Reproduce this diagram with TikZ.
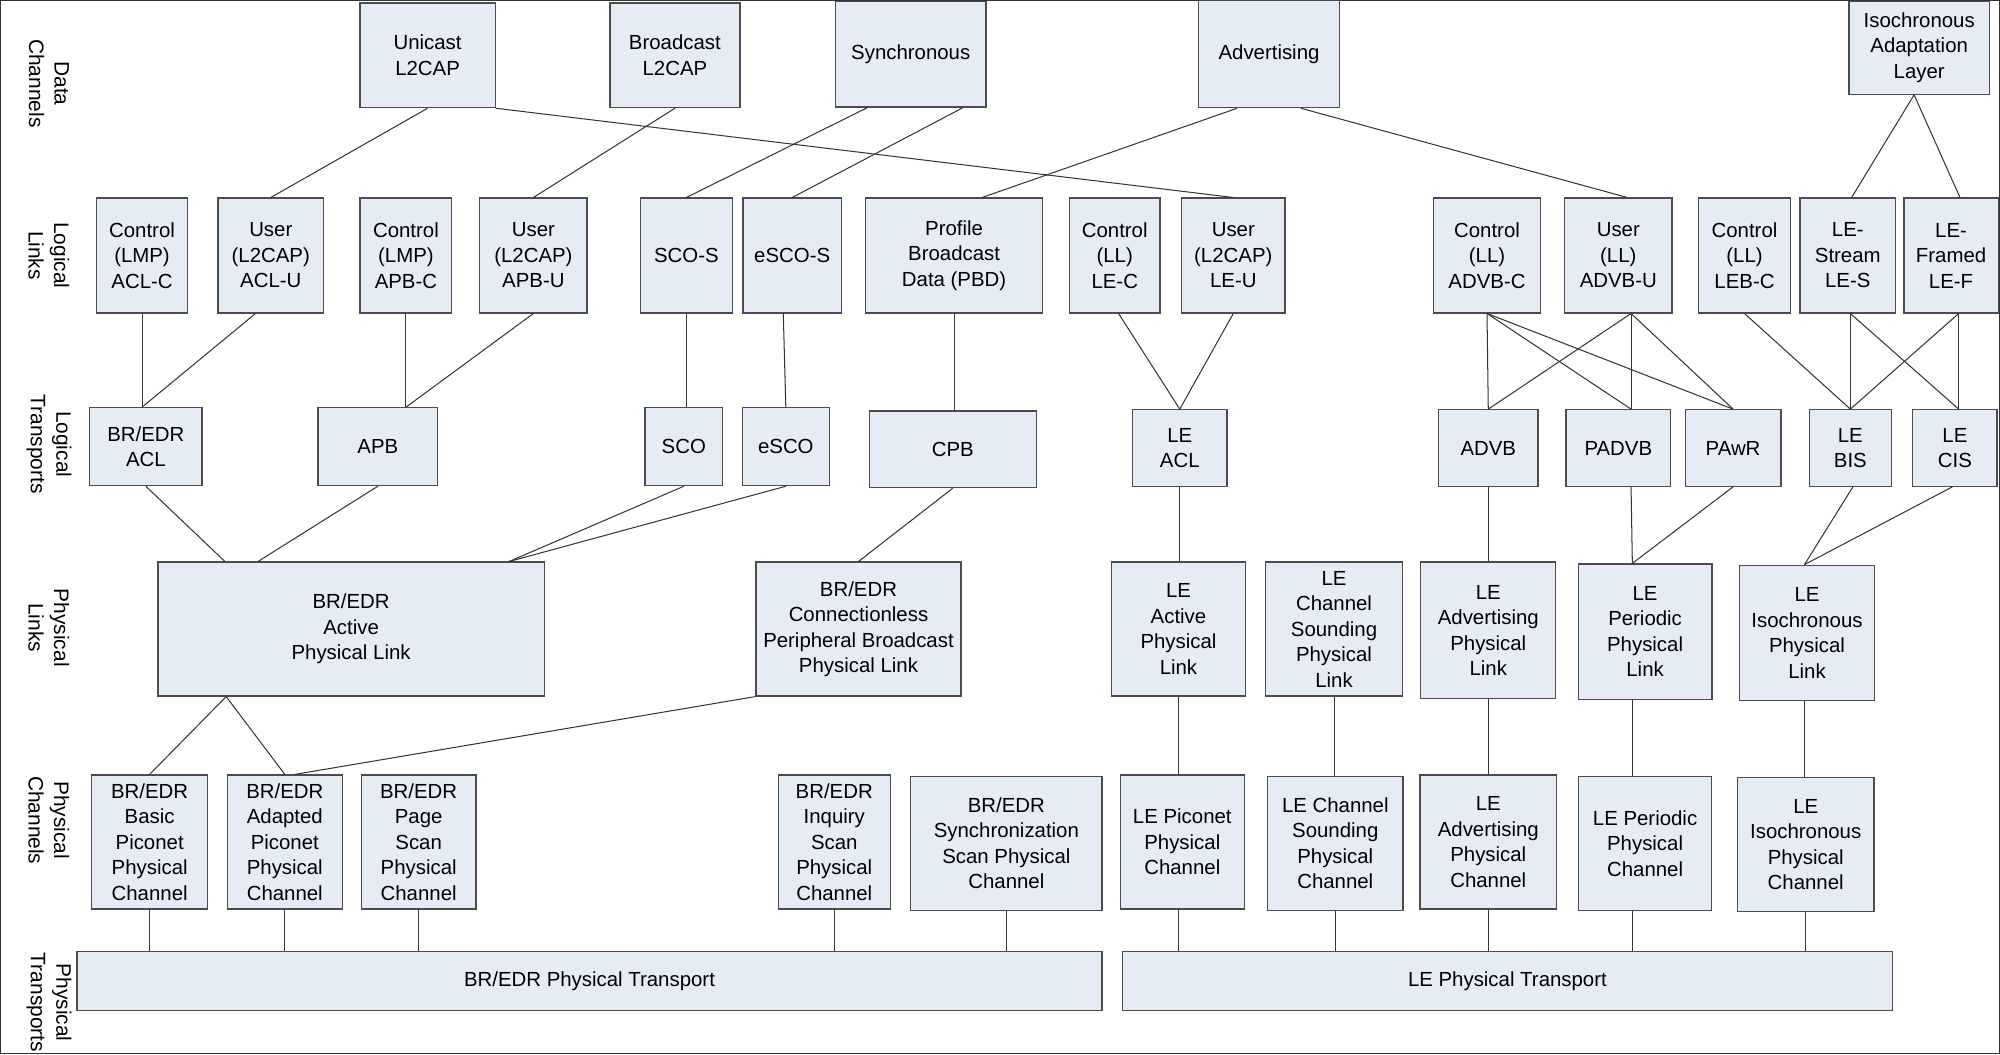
\documentclass[tikz,border=0pt]{standalone}
\usepackage{fontspec}
\setmainfont{Liberation Sans}
\begin{document}
\begin{tikzpicture}[x=0.5pt,y=-0.5pt,
  box/.style={draw=black!70,line width=0.5pt,fill=boxfill,align=center,inner sep=1pt,
    font=\fontsize{8}{10}\selectfont},
  side/.style={rotate=-90,align=center,font=\fontsize{8.2}{10}\selectfont},
  every path/.style={line width=0.4pt,draw=black!80}]
\definecolor{boxfill}{RGB}{230,236,246}
\newcommand\bx[6]{\node[box,minimum width=#4*0.5pt,minimum height=#5*0.5pt] (#1) at (#2,#3) {#6};}
\useasboundingbox (0,0) rectangle (1568,826);
% side labels
\node[side] (l1) at (38,65) {Data\\Channels};
\node[side] (l2) at (38,200) {Logical\\Links};
\node[side] (l3) at (38,348) {Logical\\Transports};
\node[side] (l4) at (38,492) {Physical\\Links};
\node[side] (l5) at (38,643) {Physical\\Channels};
\node[side] (l6) at (38,786) {Physical\\Transports};
% data channels
\bx{uni}{335}{43}{106}{82}{Unicast\\L2CAP}
\bx{bro}{529}{43}{102}{82}{Broadcast\\L2CAP}
\bx{syn}{714}{42}{118}{83}{Synchronous}
\bx{adv}{995}{42}{111}{84}{Advertising}
\bx{iso}{1505}{37}{110}{73}{Isochronous\\Adaptation\\Layer}
% logical links
\bx{aclc}{111}{200}{71}{90}{Control\\(LMP)\\ACL-C}
\bx{aclu}{212}{200}{83}{90}{User\\(L2CAP)\\ACL-U}
\bx{apbc}{318}{200}{72}{90}{Control\\(LMP)\\APB-C}
\bx{apbu}{418}{200}{84}{90}{User\\(L2CAP)\\APB-U}
\bx{scos}{538}{200}{72}{90}{SCO-S}
\bx{escos}{621}{200}{77}{90}{eSCO-S}
\bx{pbd}{748}{200}{139}{90}{Profile\\Broadcast\\Data (PBD)}
\bx{lec}{874}{200}{71}{90}{Control\\(LL)\\LE-C}
\bx{leu}{967}{200}{81}{90}{User\\(L2CAP)\\LE-U}
\bx{advbc}{1166}{200}{84}{90}{Control\\(LL)\\ADVB-C}
\bx{advbu}{1269}{200}{84}{90}{User\\(LL)\\ADVB-U}
\bx{lebc}{1368}{200}{72}{90}{Control\\(LL)\\LEB-C}
\bx{les}{1449}{200}{75}{90}{LE-\\Stream\\LE-S}
\bx{lef}{1530}{200}{74}{90}{LE-\\Framed\\LE-F}
% logical transports
\bx{bracl}{114}{350}{88}{61}{BR/EDR\\ACL}
\bx{apb}{296}{350}{94}{61}{APB}
\bx{sco}{536}{350}{61}{61}{SCO}
\bx{esco}{616}{350}{68}{61}{eSCO}
\bx{cpb}{747}{352}{131}{60}{CPB}
\bx{leacl}{925}{351}{74}{60}{LE\\ACL}
\bx{advb}{1167}{351}{78}{60}{ADVB}
\bx{padvb}{1269}{351}{82}{60}{PADVB}
\bx{pawr}{1359}{351}{75}{60}{PAwR}
\bx{bis}{1451}{351}{64}{60}{LE\\BIS}
\bx{cis}{1533}{351}{66}{60}{LE\\CIS}
% physical links
\bx{act}{275}{493}{303}{105}{BR/EDR\\Active\\Physical Link}
\bx{cpl}{673}{493}{161}{105}{BR/EDR\\Connectionless\\Peripheral Broadcast\\Physical Link}
\bx{leal}{924}{493}{105}{105}{LE\\Active\\Physical\\Link}
\bx{lecsl}{1046}{493}{107}{105}{LE\\Channel\\Sounding\\Physical\\Link}
\bx{leadl}{1167}{494}{106}{107}{LE\\Advertising\\Physical\\Link}
\bx{leperl}{1290}{495}{105}{106}{LE\\Periodic\\Physical\\Link}
\bx{leisol}{1417}{496}{106}{106}{LE\\Isochronous\\Physical\\Link}
% physical channels
\bx{basic}{117}{660}{91}{105}{BR/EDR\\Basic\\Piconet\\Physical\\Channel}
\bx{adap}{223}{660}{90}{105}{BR/EDR\\Adapted\\Piconet\\Physical\\Channel}
\bx{page}{328}{660}{90}{105}{BR/EDR\\Page\\Scan\\Physical\\Channel}
\bx{inq}{654}{660}{88}{105}{BR/EDR\\Inquiry\\Scan\\Physical\\Channel}
\bx{sync}{789}{661}{150}{105}{BR/EDR\\Synchronization\\Scan Physical\\Channel}
\bx{lepc}{927}{660}{97}{105}{LE Piconet\\Physical\\Channel}
\bx{lecsc}{1047}{661}{106}{105}{LE Channel\\Sounding\\Physical\\Channel}
\bx{leadc}{1167}{660}{107}{105}{LE\\Advertising\\Physical\\Channel}
\bx{leperc}{1290}{661}{104}{105}{LE Periodic\\Physical\\Channel}
\bx{leisoc}{1416}{662}{107}{105}{LE\\Isochronous\\Physical\\Channel}
% transports
\bx{brt}{462}{769}{804}{46}{BR/EDR Physical Transport}
\bx{let}{1182}{769}{604}{46}{LE Physical Transport}
% data channels -> logical links
\draw (uni.south) -- (aclu.north);
\draw (uni.south east) -- (leu.north);
\draw (bro.south) -- (apbu.north);
\draw ([xshift=-17pt]syn.south) -- (scos.north);
\draw ([xshift=20.5pt]syn.south) -- (escos.north);
\draw ([xshift=-12.5pt]adv.south) -- ([xshift=11pt]pbd.north);
\draw ([xshift=12.5pt]adv.south) -- ([xshift=3.5pt]advbu.north);
\draw ([xshift=-2pt]iso.south) -- ([xshift=1.5pt]les.north);
\draw ([xshift=-2pt]iso.south) -- ([xshift=3.5pt]lef.north);
% logical links -> logical transports
\draw (aclc.south) -- ([xshift=-1.5pt]bracl.north);
\draw ([xshift=-6pt]aclu.south) -- ([xshift=-1.5pt]bracl.north);
\draw (apbc.south) -- ([xshift=11pt]apb.north);
\draw (apbu.south) -- ([xshift=11pt]apb.north);
\draw (scos.south) -- (scos.south |- sco.north);
\draw ([xshift=-3.5pt]escos.south) -- (esco.north);
\draw (pbd.south) -- (pbd.south |- cpb.north);
\draw ([xshift=1.5pt]lec.south) -- (leacl.north);
\draw (leu.south) -- (leacl.north);
\draw (advbc.south) -- (advb.north);
\draw (advbc.south) -- ([xshift=5pt]padvb.north);
\draw (advbc.south) -- (pawr.north);
\draw ([xshift=5pt]advbu.south) -- (advb.north);
\draw ([xshift=5pt]advbu.south) -- ([xshift=5pt]padvb.north);
\draw ([xshift=5pt]advbu.south) -- (pawr.north);
\draw (lebc.south) -- (bis.north);
\draw ([xshift=1pt]les.south) -- (bis.north);
\draw ([xshift=1pt]les.south) -- ([xshift=1.5pt]cis.north);
\draw ([xshift=3pt]lef.south) -- (bis.north);
\draw ([xshift=3pt]lef.south) -- ([xshift=1.5pt]cis.north);
% logical transports -> physical links
\draw (bracl.south) -- ([xshift=-49.5pt]act.north);
\draw (apb.south) -- ([xshift=-36.5pt]act.north);
\draw (sco.south) -- ([xshift=62pt]act.north);
\draw (esco.south) -- ([xshift=62pt]act.north);
\draw (cpb.south) -- (cpl.north);
\draw (leacl.south) -- (leacl.south |- leal.north);
\draw (advb.south) -- (advb.south |- leadl.north);
\draw ([xshift=5pt]padvb.south) -- ([xshift=-5pt]leperl.north);
\draw (pawr.south) -- ([xshift=-5pt]leperl.north);
\draw ([xshift=1pt]bis.south) -- ([xshift=-1pt]leisol.north);
\draw ([xshift=-1pt]cis.south) -- ([xshift=-1pt]leisol.north);
% physical links -> physical channels
\draw ([xshift=-49pt]act.south) -- (basic.north);
\draw ([xshift=-49pt]act.south) -- (adap.north);
\draw (cpl.south west) -- ([xshift=4pt]adap.north);
\draw (leal.south) -- (leal.south |- lepc.north);
\draw (lecsl.south) -- (lecsl.south |- lecsc.north);
\draw (leadl.south) -- (leadl.south |- leadc.north);
\draw ([xshift=-5pt]leperl.south) -- ([xshift=-5pt]leperl.south |- leperc.north);
\draw ([xshift=-1pt]leisol.south) -- ([xshift=-1pt]leisol.south |- leisoc.north);
% physical channels -> transports
\foreach \c in {basic,adap,page,inq,sync}{\draw (\c.south) -- (\c.south |- brt.north);}
\draw ([xshift=-1.5pt]lepc.south) -- ([xshift=-1.5pt]lepc.south |- let.north);
\foreach \c in {lecsc,leadc}{\draw (\c.south) -- (\c.south |- let.north);}
\draw ([xshift=-5pt]leperc.south) -- ([xshift=-5pt]leperc.south |- let.north);
\draw (leisoc.south) -- (leisoc.south |- let.north);
\end{tikzpicture}
\end{document}
